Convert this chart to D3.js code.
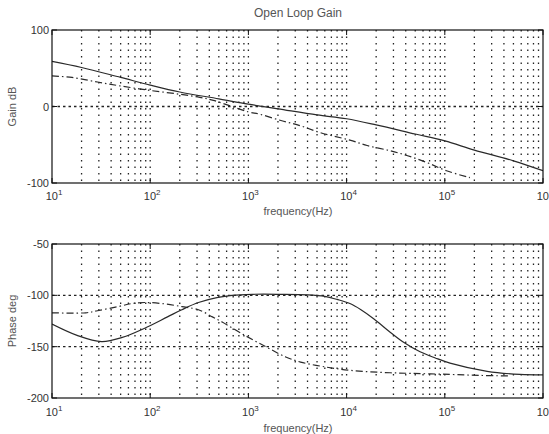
<!DOCTYPE html>
<html>
<head>
<meta charset="utf-8">
<script src="https://cdn.jsdelivr.net/npm/d3@7"></script>
<style>
  body { margin: 0; background: #fff; }
  svg { display: block; font-family: "Liberation Sans", Arial, sans-serif; }
</style>
</head>
<body>
<div class="chart"></div>
<script>
// values
const gainFreqA = [10, 20, 50, 100, 200, 500, 1000, 2000, 5000, 10000, 20000, 50000, 100000, 200000, 500000, 1000000];
const gainA     = [59, 51, 38, 28, 19, 10, 3, -3, -11, -16, -24, -36, -45, -57, -71, -84];

const gainFreqB = [10, 16, 29, 49, 100, 200, 320, 440, 1000, 1300, 2100, 3350, 5350, 10800, 16200, 28000, 41000, 65000, 104000, 180000];
const gainB     = [40, 38, 32, 27, 21, 16, 12, 8, -7, -10, -18, -25, -34, -44, -51, -58, -64, -73, -84, -93];

const phaseFreqA = [10, 18, 32, 52, 88, 150, 210, 310, 490, 680, 1100, 2100, 4000, 6000, 8000, 10800, 14000, 19000, 27000, 37000, 56000, 80000, 113000, 270000, 580000, 1000000];
const phaseA     = [-128, -139, -145, -141, -132, -121, -114, -107, -102, -100, -99, -99, -99.5, -101, -104, -108, -114, -123, -135, -145, -155, -161, -166, -174, -177, -177.5];

const phaseFreqB = [10, 22, 29, 47, 65, 88, 132, 210, 310, 430, 540, 920, 1500, 2400, 3400, 6300, 10800, 22000, 45000, 113000, 230000, 460000];
const phaseB     = [-117, -117, -115, -111, -108, -107, -108, -111, -114, -121, -126, -139, -150, -160, -165, -170, -173, -175, -176, -177, -178, -178.5];

const gainTicks = [-100, 0, 100];
const phaseTicks = [-200, -150, -100, -50];
const decades = [1, 2, 3, 4, 5, 6];

const width = 549, height = 434;
const svg = d3.select('.chart').append('svg')
  .attr('width', width)
  .attr('height', height);

const x = d3.scaleLog().domain([10, 1e6]).range([52, 543]);

const panels = [
  { top: 30, bottom: 183, domain: [-100, 100], ticks: gainTicks, label: 'Gain dB',
    series: [[gainFreqA, gainA, null], [gainFreqB, gainB, '7,3,1.5,3']], xlabelY: 200, titleY: 215 },
  { top: 244, bottom: 398, domain: [-200, -50], ticks: phaseTicks, label: 'Phase deg',
    series: [[phaseFreqA, phaseA, null], [phaseFreqB, phaseB, '7,3,1.5,3']], xlabelY: 416, titleY: 432 }
];

svg.append('text')
  .attr('x', 298).attr('y', 17)
  .attr('text-anchor', 'middle')
  .attr('font-size', 12)
  .attr('fill', '#555')
  .text('Open Loop Gain');

panels.forEach((p, i) => {
  const y = d3.scaleLinear().domain(p.domain).range([p.bottom, p.top]);
  const g = svg.append('g');
  const [x0, x1] = x.range();

  // vertical grid at every log tick
  const xt = x.ticks().filter(d => d > 10 && d < 1e6);
  g.selectAll('line.vgrid')
    .data(xt)
    .join('line')
    .attr('x1', d => x(d)).attr('x2', d => x(d))
    .attr('y1', p.top).attr('y2', p.bottom)
    .attr('stroke', '#222')
    .attr('stroke-width', 1.3)
    .attr('stroke-dasharray', '1.5,5');

  // horizontal grid
  g.selectAll('line.hgrid')
    .data(p.ticks.filter(d => d > p.domain[0] && d < p.domain[1]))
    .join('line')
    .attr('x1', x0).attr('x2', x1)
    .attr('y1', d => y(d)).attr('y2', d => y(d))
    .attr('stroke', '#222')
    .attr('stroke-width', 1.3)
    .attr('stroke-dasharray', '2.5,3');

  // curves
  const clipId = 'clip' + i;
  svg.append('clipPath').attr('id', clipId)
    .append('rect')
    .attr('x', x0).attr('y', p.top)
    .attr('width', x1 - x0).attr('height', p.bottom - p.top);

  p.series.forEach(([fs, vs, dash]) => {
    const line = d3.line()
      .x(d => x(d[0]))
      .y(d => y(d[1]))
      .curve(d3.curveCatmullRom.alpha(0.5));
    g.append('path')
      .datum(fs.map((f, k) => [f, vs[k]]))
      .attr('d', line)
      .attr('clip-path', `url(#${clipId})`)
      .attr('fill', 'none')
      .attr('stroke', '#2a2a2a')
      .attr('stroke-width', 1.2)
      .attr('stroke-dasharray', dash);
  });

  // frame
  g.append('rect')
    .attr('x', x0).attr('y', p.top)
    .attr('width', x1 - x0).attr('height', p.bottom - p.top)
    .attr('fill', 'none')
    .attr('stroke', '#111')
    .attr('stroke-width', 1.2);

  // inward ticks
  const majors = decades.map(e => Math.pow(10, e));
  g.selectAll('line.xmajor')
    .data(majors)
    .join('line')
    .attr('x1', d => x(d)).attr('x2', d => x(d))
    .attr('y1', p.bottom).attr('y2', p.bottom - 5)
    .attr('stroke', '#111');
  g.selectAll('line.xmajorTop')
    .data(majors)
    .join('line')
    .attr('x1', d => x(d)).attr('x2', d => x(d))
    .attr('y1', p.top).attr('y2', p.top + 5)
    .attr('stroke', '#111');
  g.selectAll('line.ytick')
    .data(p.ticks)
    .join('line')
    .attr('x1', x0).attr('x2', x0 + 5)
    .attr('y1', d => y(d)).attr('y2', d => y(d))
    .attr('stroke', '#111');
  g.selectAll('line.ytickR')
    .data(p.ticks)
    .join('line')
    .attr('x1', x1).attr('x2', x1 - 5)
    .attr('y1', d => y(d)).attr('y2', d => y(d))
    .attr('stroke', '#111');

  // y tick labels
  g.selectAll('text.ylab')
    .data(p.ticks)
    .join('text')
    .attr('x', x0 - 3)
    .attr('y', d => y(d) + 4)
    .attr('text-anchor', 'end')
    .attr('font-size', 11)
    .attr('fill', '#333')
    .text(d => d);

  // x tick labels: 10^n
  const xl = g.selectAll('text.xlab')
    .data(decades)
    .join('text')
    .attr('x', d => x(Math.pow(10, d)) + 2)
    .attr('y', p.xlabelY)
    .attr('text-anchor', 'middle')
    .attr('font-size', 11)
    .attr('fill', '#333');
  xl.append('tspan').text('10');
  xl.append('tspan').attr('dy', -5).attr('font-size', 8).text(d => d);

  // axis titles
  g.append('text')
    .attr('x', 298).attr('y', p.titleY)
    .attr('text-anchor', 'middle')
    .attr('font-size', 11)
    .attr('fill', '#555')
    .text('frequency(Hz)');

  g.append('text')
    .attr('transform', `translate(16,${(p.top + p.bottom) / 2}) rotate(-90)`)
    .attr('text-anchor', 'middle')
    .attr('font-size', 11)
    .attr('fill', '#555')
    .text(p.label);
});
</script>
</body>
</html>
